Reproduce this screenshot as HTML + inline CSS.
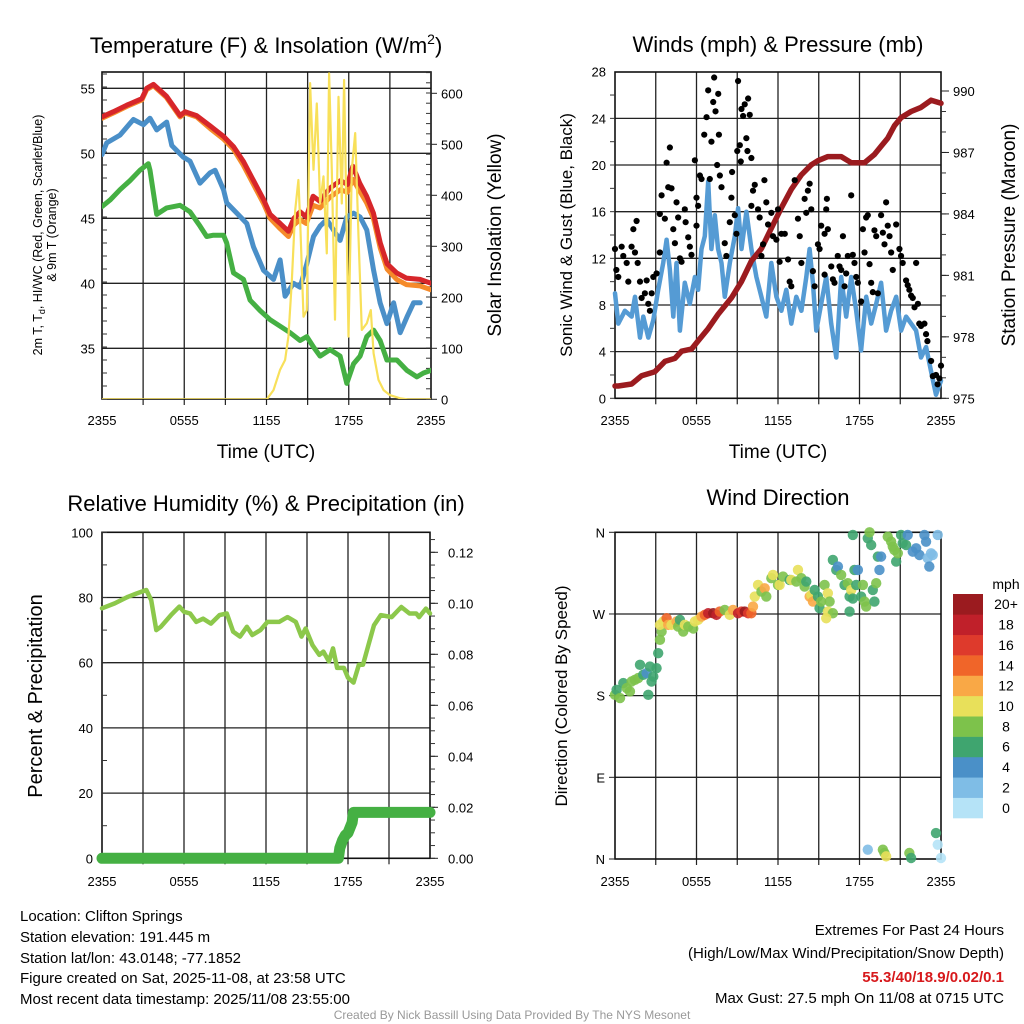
<!DOCTYPE html>
<html><head><meta charset="utf-8">
<style>
html,body{margin:0;padding:0;background:#fff;}
svg{display:block;font-family:"Liberation Sans",Arial,sans-serif;}
</style></head>
<body>
<svg id="chart" xmlns="http://www.w3.org/2000/svg" width="1024" height="1024" viewBox="0 0 1024 1024">
<rect x="0" y="0" width="1024" height="1024" fill="#fff"/>
<!-- titles -->
<text x="266" y="53" font-size="22" text-anchor="middle">Temperature (F) &amp; Insolation (W/m<tspan font-size="14" dy="-9">2</tspan><tspan dy="9">)</tspan></text>
<text x="778" y="52" font-size="22" text-anchor="middle">Winds (mph) &amp; Pressure (mb)</text>
<text x="266" y="511" font-size="22" text-anchor="middle">Relative Humidity (%) &amp; Precipitation (in)</text>
<text x="778" y="505" font-size="22" text-anchor="middle">Wind Direction</text>
<!-- axis titles -->
<text transform="translate(42,235) rotate(-90)" font-size="12.5" text-anchor="middle">2m T, T<tspan font-size="9" dy="3">d</tspan><tspan dy="-3">, HI/WC (Red, Green, Scarlet/Blue)</tspan></text>
<text transform="translate(56,235) rotate(-90)" font-size="12.5" text-anchor="middle">&amp; 9m T (Orange)</text>
<text transform="translate(501,235) rotate(-90)" font-size="19" text-anchor="middle">Solar Insolation (Yellow)</text>
<text x="266" y="458" font-size="19" text-anchor="middle">Time (UTC)</text>
<text transform="translate(572,235) rotate(-90)" font-size="17" text-anchor="middle">Sonic Wind &amp; Gust (Blue, Black)</text>
<text transform="translate(1015,235) rotate(-90)" font-size="19" text-anchor="middle">Station Pressure (Maroon)</text>
<text x="778" y="458" font-size="19" text-anchor="middle">Time (UTC)</text>
<text transform="translate(42,696) rotate(-90)" font-size="20" text-anchor="middle">Percent &amp; Precipitation</text>
<text transform="translate(567,696) rotate(-90)" font-size="17" text-anchor="middle">Direction (Colored By Speed)</text>
<!-- footer -->
<g font-size="15">
<text x="20" y="921">Location: Clifton Springs</text>
<text x="20" y="942">Station elevation: 191.445 m</text>
<text x="20" y="963">Station lat/lon: 43.0148; -77.1852</text>
<text x="20" y="983">Figure created on Sat, 2025-11-08, at 23:58 UTC</text>
<text x="20" y="1004">Most recent data timestamp: 2025/11/08 23:55:00</text>
</g>
<g font-size="15" text-anchor="end">
<text x="1004" y="935">Extremes For Past 24 Hours</text>
<text x="1004" y="958">(High/Low/Max Wind/Precipitation/Snow Depth)</text>
<text x="1004" y="982" fill="#d7191c" font-weight="bold">55.3/40/18.9/0.02/0.1</text>
<text x="1004" y="1003">Max Gust: 27.5 mph On 11/08 at 0715 UTC</text>
</g>
<text x="512" y="1019" font-size="12" fill="#999" text-anchor="middle">Created By Nick Bassill Using Data Provided By The NYS Mesonet</text>
</svg>
<script>
// ---------- DATA ----------
var xTickLabels = ["2355","0555","1155","1755","2355"];
// Temperature panel (hours since 2355)
var tempT = [0,0.83,1.8,2.9,3.26,3.75,4.7,5.7,6.06,6.9,7.9,8.86,9.6,10.3,11.05,11.8,12.26,13.0,13.6,14.0,14.45,14.9,15.4,15.9,16.6,17.4,17.9,18.3,18.8,19.3,19.8,20.3,20.8,21.5,22.2,23.2,24];
var tempRed = [52.8,53.2,53.7,54.2,55.0,55.3,54.4,52.9,53.2,52.9,52.1,51.3,50.5,49.4,47.9,46.4,45.3,44.6,44.0,45.0,45.5,45.1,46.7,46.3,47.3,47.9,47.6,49.0,47.7,46.7,45.4,43.1,41.5,40.8,40.4,40.3,40.0];
var tempOrange = [52.7,53.1,53.6,54.1,54.9,55.2,54.3,52.8,53.1,52.8,51.9,51.1,50.3,49.1,47.6,46.1,45.0,44.2,43.6,44.5,44.9,44.6,46.0,45.8,46.6,47.2,47.0,48.0,47.1,46.2,45.0,42.7,41.1,40.3,39.9,39.8,39.5];
var blueT = [0,0.34,1.31,2.04,2.29,3.02,3.5,3.99,4.72,5.09,5.94,6.42,7.15,7.88,8.25,8.86,9.1,9.83,10.56,11.05,11.78,12.51,12.99,13.36,13.97,14.45,14.94,15.43,15.91,16.4,16.89,17.37,17.86,18.35,18.83,19.32,19.81,20.29,20.78,21.27,21.75,22.24,22.73,23.21];
var blueV = [49.9,50.8,51.4,52.3,52.6,52.2,52.7,51.8,52.4,50.6,49.7,49.4,47.7,48.5,48.7,47.2,46.2,45.4,44.6,42.8,41.0,40.3,41.8,39.0,40.0,39.7,41.5,43.6,44.4,44.9,44.1,43.3,45.1,45.4,45.1,44.1,41.0,38.5,36.9,38.5,36.2,37.4,38.5,38.5];
var greenT = [0,0.58,1.31,2.04,2.77,3.38,3.5,3.99,4.72,5.69,6.42,7.15,7.64,8.13,8.86,9.1,9.59,10.32,10.8,11.53,12.26,12.99,13.72,14.45,14.94,15.43,15.91,16.64,17.37,17.86,18.35,18.83,19.32,19.81,20.29,20.78,21.51,22.24,22.97,23.45,24];
var greenV = [45.9,46.4,47.2,47.9,48.7,49.2,48.7,45.3,45.8,46.0,45.5,44.4,43.6,43.7,43.7,43.1,40.8,40.3,38.7,37.9,37.2,36.7,36.2,35.6,35.9,35.1,34.4,34.9,34.4,32.3,33.8,34.4,35.9,36.4,35.6,34.1,34.1,33.3,32.8,33.1,33.3];
var solarT = [0,12.02,12.51,12.99,13.36,13.6,13.84,14.09,14.33,14.45,14.7,14.94,15.18,15.43,15.67,15.91,16.16,16.4,16.57,16.76,17.0,17.25,17.49,17.66,17.86,17.98,18.22,18.47,18.71,18.95,19.32,19.61,19.81,20.17,20.54,21.02,21.75,22.3,24];
var solarV = [0,0,18,58,77,123,227,371,430,353,162,175,620,450,580,384,437,286,639,450,156,593,384,626,319,123,450,522,319,136,149,175,90,38,18,8,2,0,0];
var tempTicks = [35,40,45,50,55];
var solarTicks = [0,100,200,300,400,500,600];
// Wind panel
var windT = [0,.24,.73,1.22,1.47,1.84,2.08,2.45,2.82,3.18,3.55,3.8,4.04,4.29,4.53,4.78,5.14,5.51,5.88,6.12,6.37,6.61,6.86,7.1,7.35,7.59,7.84,8.08,8.45,8.82,9.06,9.31,9.67,10.04,10.41,10.78,11.14,11.51,11.88,12.25,12.61,12.98,13.35,13.72,14.08,14.33,14.57,14.82,15.18,15.55,15.92,16.29,16.65,17.02,17.39,17.76,18.12,18.49,18.86,19.23,19.59,19.96,20.33,20.7,21.06,21.43,21.8,22.17,22.53,22.9,23.27,23.63,24];
var windV = [9.0,6.4,7.5,7.0,8.7,5.2,7.0,5.2,6.7,9.3,11.6,13.6,11.0,7.0,11.6,5.8,9.9,8.1,10.4,9.3,12.8,13.9,18.6,12.8,15.7,12.8,11.6,8.7,11.6,13.9,16.3,12.8,16.0,12.8,10.4,8.7,7.0,11.6,8.7,7.5,9.3,6.4,8.7,7.5,10.4,12.8,9.9,5.8,8.1,10.4,6.4,3.5,10.4,7.0,10.4,7.5,4.1,8.7,6.4,8.1,9.9,5.8,7.5,8.7,5.8,7.0,6.4,5.8,3.5,4.4,2.3,0.3,1.5];
var gustT = [0,0.1,0.24,0.49,0.61,0.86,0.98,1.22,1.35,1.59,1.47,1.67,1.84,1.96,2.2,2.33,2.45,2.57,2.7,2.82,3.06,3.3,3.3,3.43,3.67,3.8,3.92,4.04,4.16,4.29,4.41,4.53,4.65,4.78,4.9,5.14,5.2,5.39,5.51,5.63,5.88,6.0,6.12,6.0,6.25,6.37,6.57,6.74,6.86,6.98,7.1,7.23,7.3,7.4,7.52,7.6,7.65,7.72,7.84,8.08,8.2,8.45,8.57,8.62,8.82,8.94,9.0,9.06,9.19,9.26,9.31,9.43,9.55,9.67,9.75,9.8,9.92,10.04,10.04,10.16,10.29,10.53,10.65,10.78,10.9,11.0,11.14,11.27,11.51,11.63,11.88,12.0,12.12,12.25,12.5,12.74,12.86,12.98,13.23,13.47,13.6,13.72,13.96,14.08,14.2,14.33,14.45,14.57,14.7,14.94,15.06,15.18,15.43,15.43,15.55,15.6,15.67,15.92,16.04,16.16,16.4,16.53,16.65,16.78,16.9,17.02,17.14,17.39,17.51,17.63,17.76,17.88,18.12,18.25,18.37,18.49,18.61,18.74,18.86,18.98,19.1,19.23,19.35,19.59,19.72,19.84,19.96,20.08,20.21,20.33,20.45,20.7,20.94,21.06,21.18,21.43,21.55,21.67,21.8,21.92,22.05,22.17,22.3,22.4,22.53,22.78,22.9,23.0,23.27,23.4,23.63,23.75,23.88,24];
var gustV = [12.8,11.0,10.4,13.0,12.2,11.6,10.0,13.0,14.5,15.2,12.5,11.6,10.0,8.6,9.0,10.1,8.1,7.5,9.0,10.4,10.7,12.5,15.8,17.4,15.4,20.2,18.1,21.5,18.0,14.5,13.3,16.8,15.5,12.0,11.7,16.2,15.1,13.8,13.0,12.3,20.4,17.2,16.5,14.8,19.1,18.8,22.6,24.1,26.4,18.8,22.0,25.4,27.5,24.6,20.0,26.1,22.6,19.1,18.1,13.3,12.2,15.1,17.2,19.4,15.7,14.1,21.2,27.2,21.7,20.3,24.8,24.2,25.2,22.3,21.2,25.7,24.3,20.6,16.5,17.8,18.3,16.2,15.5,12.2,13.2,18.7,16.8,14.9,15.9,13.9,13.6,16.2,11.7,14.1,14.1,11.9,10.0,9.6,18.7,15.4,13.9,11.6,17.1,15.9,17.8,18.4,16.2,10.9,9.6,13.2,12.8,14.8,14.1,10.6,16.2,17.1,14.5,11.3,10.2,9.9,12.2,11.3,11.0,13.9,9.6,10.7,12.2,17.4,12.3,11.6,10.4,9.9,8.3,14.5,12.5,15.5,15.7,11.5,9.9,9.1,14.4,13.9,9.0,15.7,14.2,13.2,16.8,14.8,13.9,12.5,11.0,14.9,12.8,12.2,11.6,10.1,9.7,9.3,8.8,8.6,7.8,11.6,8.1,6.4,6.2,6.4,5.5,4.9,3.2,1.9,2.0,1.2,1.7,2.8];
var presT = [0,0.24,1.22,1.96,2.94,3.67,4.41,4.9,5.63,6.12,6.86,7.59,8.57,9.31,10.04,10.78,11.51,12.25,12.98,13.71,14.45,14.94,15.67,16.65,17.39,18.37,19.1,19.59,20.08,20.57,21.06,21.8,22.53,23.27,24];
var presV = [975.6,975.6,975.7,976.1,976.3,976.8,976.95,977.3,977.4,977.8,978.4,979.1,979.9,980.7,981.7,982.3,983.3,984.3,985.2,985.9,986.4,986.6,986.8,986.8,986.5,986.5,986.9,987.3,987.7,988.3,988.7,989.0,989.2,989.55,989.4];
var windTicks = [0,4,8,12,16,20,24,28];
var presTicks = [975,978,981,984,987,990];
// Humidity panel
var rhT = [0,0.93,1.9,2.5,3.24,3.6,3.97,4.3,5.05,5.66,6.0,6.45,6.9,7.4,7.97,8.6,9.13,9.6,10.1,10.6,11.0,11.6,12.1,12.96,13.57,14.18,14.6,14.9,15.4,15.9,16.2,16.6,16.9,17.2,17.7,18.0,18.4,18.8,19.1,19.5,19.9,20.4,21.2,21.9,22.5,23.0,23.2,23.7,24];
var rhV = [76.7,78.2,80.2,81.2,82.3,79.2,70.0,71.0,74.6,77.2,75.6,75.1,72.5,73.5,72.0,74.6,75.1,69.5,68.0,71.0,68.5,70.0,72.5,72.5,74.0,72.5,68.0,70.5,65.4,62.4,63.4,60.4,64.4,58.4,58.4,55.4,53.9,59.4,59.4,65.5,71.5,74.6,74.0,77.1,75.1,75.1,74.0,76.6,75.1];
var precipT = [0,17.3,17.4,17.6,17.8,18.0,18.3,18.4,24];
var precipV = [0,0,0.004,0.007,0.009,0.010,0.014,0.018,0.018];
var rhTicks = [0,20,40,60,80,100];
var precipTicks = [0,0.02,0.04,0.06,0.08,0.10,0.12];
// Direction panel
var dirT = [0,.12,.37,.61,.86,1.1,1.22,1.47,1.71,1.84,2.08,2.33,2.45,2.57,2.69,2.82,3.06,3.18,3.31,3.43,3.31,3.55,3.8,3.92,4.16,4.53,4.65,4.78,5.02,5.14,5.39,5.76,5.88,6.12,6.37,6.61,6.86,7.23,7.47,7.71,8.08,8.45,8.69,9.06,9.31,9.55,9.8,10.04,10.16,10.29,10.53,10.78,11.02,11.14,11.51,11.63,12.0,12.12,12.37,12.86,12.98,13.35,13.47,13.72,13.96,14.08,14.33,14.45,14.57,14.7,14.94,15.06,15.18,15.43,15.67,15.8,15.67,16.04,15.55,16.04,16.29,16.41,16.65,16.9,17.14,17.27,17.39,17.51,17.63,17.76,17.88,18.12,18.25,18.37,18.49,18.61,18.74,18.86,18.98,19.1,19.23,19.35,19.47,19.59,17.51,17.27,20.08,20.33,20.45,20.57,20.7,20.82,21.06,21.18,21.43,21.55,21.92,22.17,22.41,22.78,22.9,23.02,23.14,23.27,23.39,23.76,18.61,19.72,19.84,19.96,21.67,21.8,23.63,23.76,24];
var dirDeg = [180.9,186.4,177.3,193.8,188.3,184.6,195.6,197.4,199.3,214,203,204.8,180.9,212.1,195.6,201.1,210.3,226.8,241.5,250.6,258,261.7,265.3,258,258,261.7,256.1,263.5,250.6,258,256.1,254,261.7,263.5,267.2,269,270.8,270.8,269,272.7,274.5,269,274.5,270.8,272.7,272.7,270.8,270.8,278.2,289.2,302,294.7,298.3,289.2,309.4,313,302,302,311.2,307.5,307.5,305.7,318.5,309.4,300.2,305.7,289.2,291,283.7,296.5,289.2,276.3,283.7,302,292.8,283.7,272.7,270.8,265.3,329.5,318.5,322.2,313,302,303.9,289.2,296.5,287,318.5,302,318.5,289.2,302,283.7,278.2,353.4,360,346,296.5,283.7,303.9,333.2,318.5,333.2,357.1,272.7,355.2,349.7,344.2,340.6,327.7,336.9,357.1,347.9,346,357.1,338.7,342.4,335,357.1,349.7,331.4,322.2,336.9,335,357.1,10.3,10.3,6.6,2.9,6.6,1.1,28.6,15.8,1.1];
var dirSpd = [8,6,8,6,8,8,8,8,8,6,6,4,6,6,6,6,6,6,8,8,10,10,14,12,10,12,8,6,8,10,8,8,10,10,12,14,18,20,18,14,8,10,12,18,16,20,16,14,12,10,10,8,12,8,8,10,8,10,8,6,10,8,10,8,8,6,12,10,12,6,6,6,8,8,10,8,10,8,10,6,6,4,8,6,8,6,10,6,6,6,4,6,8,8,8,6,8,6,6,6,8,6,4,4,6,6,8,8,8,8,6,8,6,6,6,4,4,4,4,4,4,2,4,2,2,2,2,8,8,10,8,6,6,0,0,4];
var speedLevels = ["0","2","4","6","8","10","12","14","16","18","20+"];
var speedColors = ["#b5e3f7","#7fbde6","#4a90c8","#3fa56f","#7dc24b","#e8e05a","#f9a846","#f06529","#de3a2c","#c0202a","#9b1b1f"];
var dirTicks = ["N","E","S","W","N"];

// ---------- helpers ----------
var NS="http://www.w3.org/2000/svg";
var svg=document.getElementById('chart');
function mk(tag,attrs,parent){var e=document.createElementNS(NS,tag);for(var k in attrs)e.setAttribute(k,attrs[k]);(parent||svg).appendChild(e);return e;}
function scale(d0,d1,r0,r1){return function(v){return r0+(v-d0)/(d1-d0)*(r1-r0);};}
function pathD(xs,ys,fx,fy){var d="";for(var i=0;i<xs.length;i++){d+=(i?"L":"M")+fx(xs[i]).toFixed(1)+","+fy(ys[i]).toFixed(1);}return d;}

function frame(g,x0,y0,x1,y1,vgrid,hgrid){
  for(var i=0;i<vgrid.length;i++){var l=mk('line',{x1:vgrid[i],x2:vgrid[i],y1:y0,y2:y1,stroke:'#222','stroke-width':1.3},g);
    
    var tk=mk('line',{x1:vgrid[i],x2:vgrid[i],y1:y1,y2:y1+6,stroke:'#222','stroke-width':1.2},g);
    }
  for(var j=0;j<hgrid.length;j++){var h=mk('line',{x1:x0,x2:x1,y1:hgrid[j],y2:hgrid[j],stroke:'#222','stroke-width':1.3},g);
    }
  var r=mk('rect',{x:x0,y:y0,width:x1-x0,height:y1-y0,fill:'none',stroke:'#111','stroke-width':1.6},g);
  
}
function txt(g,x,y,s,anchor,size){var t=mk('text',{x:x,y:y,'font-size':size||13,'text-anchor':anchor||'middle'},g);t.textContent=s;return t;}
function xLabels(g,fx,y){for(var i=0;i<xTickLabels.length;i++){var t=txt(g,fx(i*6),y,xTickLabels[i],'middle',13);
  }}
function vgridFor(fx){var a=[];for(var h=3;h<24;h+=3)a.push(fx(h));return a;}
function minorTicks(g,x,ya,yb,step,dir){for(var y=ya;y>=yb-0.01;y-=step){var m=mk('line',{x1:x,x2:x+dir*5,y1:y,y2:y,stroke:'#333','stroke-width':1},g);
  }}

// ---------- Panel 1 ----------
(function(){
  var g=mk('g',{});
  
  
  var X0=102,X1=431,Y0=72,Y1=399;
  var fx=scale(0,24,X0,X1), fy=scale(35,55,348.3,88.3), fs=scale(0,600,399.3,93.3);
  var hg=[];for(var i=0;i<tempTicks.length;i++)hg.push(fy(tempTicks[i]));
  frame(g,X0,Y0,X1,Y1,vgridFor(fx),hg);
  minorTicks(g,X0,Y1,Y0,13,1);
  minorTicks(g,X1,Y1,Y0,fs(0)-fs(20),-1);
  for(i=0;i<tempTicks.length;i++){var t=txt(g,X0-7,fy(tempTicks[i])+5,String(tempTicks[i]),'end',13);}
  for(i=0;i<solarTicks.length;i++){var t2=txt(g,X1+10,fs(solarTicks[i])+5,String(solarTicks[i]),'start',13);
    var tk=mk('line',{x1:X1,x2:X1+6,y1:fs(solarTicks[i]),y2:fs(solarTicks[i]),stroke:'#222'},g);}
  xLabels(g,fx,425);
  var cp=mk('clipPath',{id:'c1'},g);mk('rect',{x:X0,y:Y0,width:X1-X0,height:Y1-Y0},cp);
  var gg=mk('g',{'clip-path':'url(#c1)'},g);
  var s;
  s=mk('path',{d:pathD(tempT,tempOrange,fx,fy),fill:'none',stroke:'#f58a2a','stroke-width':5,'stroke-linejoin':'round','stroke-linecap':'round'},gg);
  
  s=mk('path',{d:pathD(tempT,tempRed,fx,fy),fill:'none',stroke:'#d7262a','stroke-width':5,'stroke-linejoin':'round','stroke-linecap':'round'},gg);
  
  s=mk('path',{d:pathD(blueT,blueV,fx,fy),fill:'none',stroke:'#4a8fc8','stroke-width':5,'stroke-linejoin':'round','stroke-linecap':'round'},gg);
  
  s=mk('path',{d:pathD(greenT,greenV,fx,fy),fill:'none',stroke:'#45b043','stroke-width':5,'stroke-linejoin':'round','stroke-linecap':'round'},gg);
  
  s=mk('path',{d:pathD(solarT,solarV,fx,fs),fill:'none',stroke:'#f8e05a','stroke-width':2.2,'stroke-linejoin':'round'},gg);
  
})();

// ---------- Panel 2 ----------
(function(){
  var g=mk('g',{});
  
  
  var X0=615,X1=941,Y0=72,Y1=398.3;
  var fx=scale(0,24,X0,X1), fy=scale(0,28,398.3,71.7), fp=scale(975,990,398.3,91);
  var hg=[];for(var i=1;i<windTicks.length-1;i++)hg.push(fy(windTicks[i]));
  frame(g,X0,Y0,X1,Y1,vgridFor(fx),hg);
  minorTicks(g,X0,Y1,Y0,(fy(0)-fy(2)),-1);
  minorTicks(g,X1,Y1,Y0,(fp(975)-fp(976)),1);
  for(i=0;i<windTicks.length;i++){var t=txt(g,X0-9,fy(windTicks[i])+5,String(windTicks[i]),'end',13);}
  for(i=0;i<presTicks.length;i++){var t2=txt(g,X1+12,fp(presTicks[i])+5,String(presTicks[i]),'start',13);
    var tk=mk('line',{x1:X1,x2:X1+8,y1:fp(presTicks[i]),y2:fp(presTicks[i]),stroke:'#222'},g);}
  xLabels(g,fx,425);
  var cp=mk('clipPath',{id:'c2'},g);mk('rect',{x:X0-6,y:Y0,width:X1-X0+12,height:Y1-Y0+6},cp);
  var gg=mk('g',{'clip-path':'url(#c2)'},g);
  var s=mk('path',{d:pathD(windT,windV,fx,fy),fill:'none',stroke:'#559bd4','stroke-width':4.5,'stroke-linejoin':'round','stroke-linecap':'round'},gg);
  
  s=mk('path',{d:pathD(presT,presV,fx,fp),fill:'none',stroke:'#9b1b1f','stroke-width':5.5,'stroke-linejoin':'round','stroke-linecap':'round'},gg);
  
  for(var k=0;k<gustT.length;k++){
    var c=mk('circle',{cx:fx(gustT[k]),cy:fy(gustV[k]),r:3.1,fill:'#000'},gg);
    
    
  }
})();

// ---------- Panel 3 ----------
(function(){
  var g=mk('g',{});
  
  
  var X0=102,X1=430,Y0=532.3,Y1=858.3;
  var fx=scale(0,24,X0,X1), fy=scale(0,100,858.3,532.3), fp=scale(0,0.1,858.3,603.3);
  var hg=[];for(var i=1;i<rhTicks.length-1;i++)hg.push(fy(rhTicks[i]));
  frame(g,X0,Y0,X1,Y1,vgridFor(fx),hg);
  minorTicks(g,X0,Y1,Y0,(fy(0)-fy(10)),1);
  minorTicks(g,X1,Y1,Y0,(fp(0)-fp(0.005)),1);
  for(i=0;i<rhTicks.length;i++){var t=txt(g,X0-9,fy(rhTicks[i])+5,String(rhTicks[i]),'end',13);}
  for(i=0;i<precipTicks.length;i++){var t2=txt(g,X1+18,fp(precipTicks[i])+5,precipTicks[i].toFixed(2),'start',13);
    var tk=mk('line',{x1:X1,x2:X1+8,y1:fp(precipTicks[i]),y2:fp(precipTicks[i]),stroke:'#222'},g);}
  xLabels(g,fx,886);
  var s=mk('path',{d:pathD(rhT,rhV,fx,fy),fill:'none',stroke:'#8cc84b','stroke-width':4.5,'stroke-linejoin':'round','stroke-linecap':'round'},g);
  
  s=mk('path',{d:pathD(precipT,precipV,fx,fp),fill:'none',stroke:'#45b043','stroke-width':11,'stroke-linejoin':'round','stroke-linecap':'round'},g);
  
})();

// ---------- Panel 4 ----------
(function(){
  var g=mk('g',{});
  
  
  var X0=615,X1=941,Y0=532.3,Y1=859;
  var fx=scale(0,24,X0,X1), fy=scale(0,360,859,532.3);
  var hg=[fy(90),fy(180),fy(270)];
  frame(g,X0,Y0,X1,Y1,vgridFor(fx),hg);
  for(var i=0;i<dirTicks.length;i++){var t=txt(g,X0-10,fy(i*90)+5,dirTicks[i],'end',13);
    var tk=mk('line',{x1:X0-6,x2:X0,y1:fy(i*90),y2:fy(i*90),stroke:'#222'},g);}
  xLabels(g,fx,886);
  for(var k=0;k<dirT.length;k++){
    var idx=Math.min(10,Math.max(0,Math.round(dirSpd[k]/2)));
    var c=mk('circle',{cx:fx(dirT[k]),cy:fy(dirDeg[k]),r:5.2,fill:speedColors[idx],'fill-opacity':0.9},g);
    
    
  }
  // colorbar
  var cb=mk('g',{},svg);
  
  
  var ml=txt(cb,1006,589,'mph','middle',14);
  
  var bh=(818-594)/speedLevels.length;
  for(var j=0;j<speedLevels.length;j++){
    var yy=818-(j+1)*bh;
    var r=mk('rect',{x:953,y:yy,width:30,height:bh+0.3,fill:speedColors[j]},cb);
    
    
    var lt=txt(cb,1006,yy+bh/2+5,speedLevels[j],'middle',14);
    
    
  }
})();
</script>
</body></html>
